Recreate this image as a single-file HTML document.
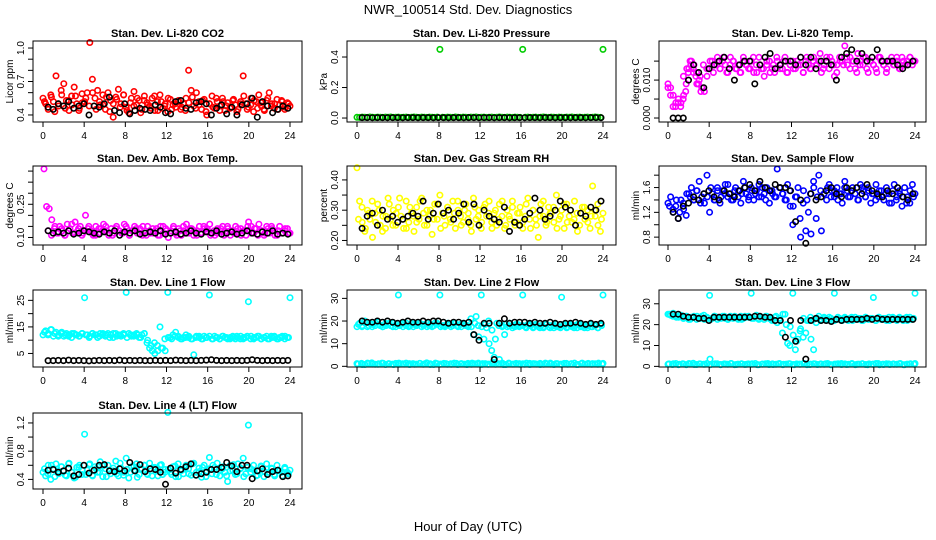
<!DOCTYPE html>
<html><head><meta charset="utf-8"><style>
html,body{margin:0;padding:0;background:#fff}
svg{display:block;font-family:"Liberation Sans",Arial,sans-serif}
</style></head><body>
<svg id="chart" width="936" height="540" viewBox="0 0 936 540" xmlns="http://www.w3.org/2000/svg">
<text x="468" y="14" text-anchor="middle" font-size="13">NWR_100514 Std. Dev. Diagnostics</text>
<text x="468" y="531" text-anchor="middle" font-size="13">Hour of Day (UTC)</text>
</svg>
<script>
const xTicks=[0,4,8,12,16,20,24];
// --- data ---
const co2Red=[0.55,0.50,0.45,0.58,0.52,0.75,0.48,0.62,0.68,0.53,0.44,0.57,0.65,0.50,0.46,0.59,0.52,0.60,1.05,0.72,0.55,0.62,0.49,0.58,0.45,0.60,0.53,0.38,0.56,0.63,0.50,0.58,0.47,0.42,0.55,0.61,0.49,0.53,0.45,0.57,0.51,0.48,0.55,0.44,0.52,0.58,0.46,0.50,0.43,0.54,0.49,0.47,0.52,0.45,0.50,0.55,0.80,0.62,0.48,0.60,0.52,0.45,0.54,0.40,0.50,0.57,0.46,0.52,0.48,0.55,0.44,0.51,0.47,0.53,0.49,0.45,0.52,0.75,0.50,0.47,0.55,0.43,0.52,0.58,0.48,0.45,0.53,0.60,0.50,0.46,0.54,0.49,0.52,0.45,0.51,0.48];
const co2RedB=[0.52,0.47,0.56,0.43,0.50,0.58,0.46,0.53,0.49,0.57,0.44,0.51,0.55,0.48,0.60,0.45,0.52,0.49,0.56,0.43,0.50,0.54,0.47,0.58,0.44,0.51,0.48,0.55,0.42,0.53,0.49,0.46,0.57,0.44,0.52,0.48,0.55,0.45,0.50,0.53,0.47,0.44,0.51,0.56,0.46,0.49,0.53,0.43,0.50,0.47,0.55,0.44,0.52,0.48,0.46,0.54,0.43,0.50,0.57,0.45,0.49,0.53,0.46,0.51,0.44,0.55,0.48,0.50,0.45,0.53,0.47,0.50];
const co2Blk=[0.47,0.45,0.50,0.48,0.52,0.46,0.48,0.50,0.40,0.48,0.47,0.50,0.56,0.44,0.42,0.50,0.41,0.44,0.46,0.45,0.44,0.49,0.47,0.42,0.41,0.52,0.53,0.46,0.45,0.51,0.52,0.50,0.40,0.46,0.49,0.41,0.47,0.40,0.49,0.50,0.55,0.38,0.52,0.48,0.42,0.45,0.48,0.46];
const presGreen=[0.005,0.004,0.006,0.005,0.004,0.007,0.005,0.004,0.006,0.005,0.004,0.006,0.005,0.007,0.004,0.005,0.006,0.004,0.005,0.006,0.004,0.005,0.007,0.005,0.004,0.006,0.005,0.004,0.006,0.005,0.004,0.006,0.45,0.005,0.004,0.006,0.005,0.004,0.007,0.005,0.004,0.006,0.005,0.004,0.006,0.005,0.007,0.004,0.005,0.006,0.004,0.005,0.006,0.004,0.005,0.007,0.005,0.004,0.006,0.005,0.004,0.006,0.005,0.004,0.45,0.005,0.006,0.004,0.005,0.006,0.004,0.005,0.007,0.005,0.004,0.006,0.005,0.004,0.006,0.005,0.004,0.006,0.005,0.007,0.004,0.005,0.006,0.004,0.005,0.006,0.004,0.005,0.007,0.005,0.004,0.45];
const presBlk=[0.003,0.003,0.002,0.003,0.003,0.002,0.003,0.003,0.002,0.003,0.003,0.002,0.003,0.003,0.002,0.003,0.003,0.002,0.003,0.003,0.002,0.003,0.003,0.002,0.003,0.003,0.002,0.003,0.003,0.002,0.003,0.003,0.002,0.003,0.003,0.002,0.003,0.003,0.002,0.003,0.003,0.002,0.003,0.003,0.002,0.003,0.003,0.002];
const tempMag=[0.009,0.008,0.006,0.004,0.005,0.004,0.006,0.009,0.013,0.015,0.014,0.012,0.010,0.008,0.007,0.011,0.013,0.015,0.014,0.016,0.013,0.015,0.014,0.012,0.016,0.015,0.013,0.014,0.012,0.016,0.014,0.013,0.015,0.012,0.014,0.016,0.013,0.011,0.014,0.015,0.013,0.012,0.015,0.014,0.013,0.016,0.012,0.014,0.015,0.013,0.014,0.016,0.012,0.015,0.014,0.013,0.016,0.014,0.015,0.012,0.014,0.016,0.013,0.015,0.011,0.014,0.016,0.015,0.019,0.014,0.016,0.015,0.013,0.017,0.015,0.014,0.016,0.012,0.015,0.014,0.013,0.016,0.015,0.014,0.012,0.015,0.016,0.014,0.015,0.013,0.016,0.014,0.015,0.016,0.014,0.015];
const tempMagB=[0.011,0.013,0.015,0.012,0.009,0.011,0.014,0.013,0.015,0.012,0.014,0.013,0.016,0.012,0.014,0.015,0.013,0.012,0.015,0.014,0.013,0.016,0.012,0.014,0.013,0.015,0.012,0.014,0.016,0.013,0.015,0.012,0.014,0.013,0.015,0.014,0.012,0.016,0.013,0.015,0.014,0.017,0.013,0.015,0.016,0.014,0.012,0.015,0.014,0.016,0.013,0.015,0.012,0.014,0.016,0.013,0.015,0.014,0.012,0.016,0.014,0.013,0.015,0.014,0.016,0.013,0.015,0.014,0.016,0.015];
const tempMagLow=[0.008,0.006,0.003,0.003,0.004,0.003,0.005,0.007,0.012,0.014,0.013,0.011,0.009,0.007];
const tempBlk=[0.000,0.000,0.000,0.010,0.014,0.012,0.008,0.013,0.014,0.015,0.016,0.013,0.010,0.014,0.015,0.015,0.009,0.014,0.016,0.017,0.013,0.014,0.015,0.015,0.014,0.016,0.014,0.016,0.013,0.015,0.015,0.014,0.010,0.016,0.017,0.018,0.015,0.017,0.015,0.016,0.018,0.015,0.015,0.015,0.014,0.013,0.014,0.015];
const ambMag=[0.41,0.24,0.23,0.18,0.14,0.12,0.15,0.13,0.11,0.16,0.14,0.12,0.17,0.13,0.15,0.12,0.20,0.14,0.13,0.11,0.15,0.12,0.14,0.16,0.13,0.11,0.14,0.12,0.15,0.13,0.12,0.16,0.14,0.11,0.13,0.15,0.12,0.14,0.11,0.13,0.15,0.12,0.14,0.13,0.11,0.15,0.12,0.14,0.10,0.13,0.15,0.12,0.14,0.11,0.13,0.16,0.12,0.14,0.13,0.11,0.15,0.12,0.14,0.13,0.16,0.12,0.11,0.14,0.13,0.15,0.12,0.14,0.11,0.13,0.15,0.12,0.14,0.13,0.11,0.17,0.15,0.12,0.14,0.16,0.13,0.11,0.15,0.12,0.14,0.13,0.11,0.15,0.12,0.13,0.14,0.12];
const ambMagB=[0.13,0.11,0.15,0.12,0.14,0.11,0.13,0.16,0.12,0.14,0.11,0.13,0.15,0.12,0.11,0.14,0.13,0.15,0.12,0.11,0.14,0.13,0.12,0.15,0.11,0.13,0.14,0.12,0.15,0.11,0.13,0.12,0.14,0.11,0.15,0.13,0.12,0.14,0.11,0.13,0.15,0.12,0.14,0.11,0.13,0.12,0.15,0.14,0.11,0.13,0.12,0.14,0.11,0.15,0.13,0.12,0.14,0.11,0.13,0.15,0.12,0.14,0.11,0.13,0.12,0.14,0.15,0.11,0.13,0.12,0.14,0.12];
const ambBlk=[0.13,0.12,0.125,0.12,0.13,0.115,0.12,0.13,0.125,0.12,0.115,0.125,0.12,0.13,0.11,0.125,0.12,0.13,0.115,0.12,0.125,0.12,0.13,0.115,0.12,0.125,0.115,0.12,0.13,0.12,0.115,0.125,0.12,0.13,0.115,0.12,0.125,0.115,0.12,0.13,0.12,0.115,0.125,0.12,0.13,0.115,0.12,0.115];
const rhYel=[0.44,0.33,0.26,0.23,0.30,0.27,0.21,0.29,0.32,0.25,0.28,0.24,0.34,0.27,0.30,0.25,0.31,0.28,0.24,0.33,0.26,0.29,0.23,0.31,0.27,0.34,0.25,0.30,0.28,0.22,0.32,0.27,0.35,0.29,0.25,0.31,0.27,0.33,0.24,0.30,0.28,0.26,0.32,0.29,0.25,0.34,0.27,0.30,0.24,0.31,0.28,0.33,0.26,0.29,0.25,0.32,0.28,0.24,0.30,0.27,0.33,0.25,0.29,0.31,0.26,0.28,0.34,0.24,0.30,0.27,0.21,0.32,0.28,0.25,0.31,0.29,0.26,0.35,0.27,0.30,0.24,0.32,0.28,0.26,0.33,0.29,0.25,0.31,0.27,0.30,0.24,0.38,0.28,0.32,0.23,0.29];
const rhYelB=[0.27,0.31,0.24,0.29,0.33,0.26,0.30,0.23,0.28,0.32,0.25,0.29,0.34,0.27,0.24,0.31,0.28,0.26,0.33,0.29,0.25,0.30,0.27,0.32,0.24,0.28,0.31,0.26,0.29,0.33,0.25,0.30,0.27,0.23,0.31,0.28,0.26,0.32,0.29,0.24,0.30,0.27,0.33,0.25,0.28,0.31,0.26,0.29,0.24,0.32,0.27,0.30,0.25,0.28,0.33,0.26,0.29,0.31,0.24,0.28,0.32,0.26,0.30,0.27,0.23,0.29,0.31,0.26,0.28,0.30,0.25,0.27];
const rhBlk=[0.24,0.28,0.29,0.25,0.30,0.27,0.28,0.26,0.27,0.28,0.29,0.28,0.33,0.27,0.29,0.32,0.29,0.30,0.27,0.29,0.32,0.26,0.32,0.25,0.30,0.28,0.27,0.26,0.31,0.23,0.26,0.25,0.27,0.29,0.34,0.30,0.27,0.28,0.30,0.33,0.31,0.30,0.25,0.29,0.28,0.31,0.30,0.33];
const sampBlue=[1.35,1.45,1.20,1.30,1.10,1.40,1.25,1.15,1.50,1.60,1.40,1.55,1.70,1.45,1.35,1.80,1.20,1.50,1.40,1.60,1.35,1.55,1.65,1.45,1.50,1.40,1.60,1.55,1.35,1.70,1.50,1.45,1.60,1.40,1.55,1.65,1.45,1.50,1.60,1.35,1.55,1.45,1.90,1.60,1.50,1.40,1.65,1.30,1.00,1.45,1.60,0.80,1.35,0.90,1.20,0.85,1.70,1.10,1.80,0.90,1.50,1.40,1.65,1.55,1.45,1.60,1.50,1.35,1.70,1.55,1.45,1.60,1.50,1.40,1.65,1.55,1.45,1.60,1.35,1.50,1.65,1.45,1.55,1.40,1.60,1.50,1.35,1.65,1.45,1.55,1.30,1.60,1.45,1.35,1.65,1.50];
const sampBlueB=[1.30,1.25,1.40,1.20,1.35,1.50,1.45,1.40,1.55,1.35,1.50,1.45,1.60,1.40,1.55,1.45,1.50,1.65,1.40,1.55,1.45,1.50,1.60,1.40,1.55,1.50,1.45,1.60,1.40,1.55,1.50,1.45,1.60,1.50,1.40,1.55,1.30,1.45,1.10,1.55,1.40,1.50,1.60,1.45,1.55,1.50,1.60,1.45,1.55,1.40,1.50,1.60,1.45,1.55,1.50,1.40,1.60,1.45,1.55,1.50,1.40,1.55,1.45,1.50,1.35,1.55,1.40,1.50,1.45,1.35,1.55,1.45];
const sampBlk=[1.20,1.10,1.30,1.35,1.45,1.40,1.50,1.55,1.45,1.40,1.55,1.50,1.45,1.55,1.60,1.65,1.55,1.70,1.60,1.55,1.65,1.60,1.60,1.55,1.05,1.40,0.70,1.50,1.40,1.45,1.55,1.60,1.50,1.45,1.60,1.55,1.60,1.50,1.65,1.55,1.50,1.45,1.55,1.50,1.60,1.45,1.40,1.50];
const line1Cyan=[12,13.5,12.5,14,11.5,13,12,12.5,11.5,12.5,12,11,12.5,12,11.5,12.5,26,12,11.5,12.5,12,11,12.5,12,11.5,12.5,12,11,12.5,12,11.5,12,28,12.5,11.5,12,12.5,11,12,12.5,9,7,6,5,8,15,7,6,28,11,12,13,11.5,10.5,11,12,11,10.5,4.5,11.5,11,10.5,11.5,11,27,10.5,11.5,11,10.5,11.5,11,10.5,11,11.5,10.5,11,11.5,10.5,11,24.5,11.5,10.5,11,11.5,10.5,11,11.5,10.5,11,11.5,10.5,11,11.5,10.5,11,26];
const line1CyanB=[13,12,14,12.5,11.5,13,12,11.5,12.5,12,11.5,12.5,12,11,12.5,12,11.5,12.5,12,11,12.5,11.5,12,12.5,11,12,11.5,12,11,12.5,10,8,9,6,7,10.5,11,10.5,11.5,11,10.5,11,11.5,10.5,11,11.5,10.5,11,11.5,10.5,11,10.5,11.5,11,10.5,11,11.5,10.5,11,11.5,10.5,11,11.5,10.5,11,10.5,11.5,11,10.5,11,11.5,11];
const line1Blk=[2.3,2.3,2.4,2.3,2.5,2.3,2.4,2.3,2.2,2.3,2.4,2.3,2.4,2.3,2.5,2.3,2.4,2.3,2.4,2.3,2.3,2.4,2.3,2.4,2.3,2.5,2.4,2.3,2.4,2.3,2.4,2.5,2.6,2.4,2.3,2.4,2.3,2.4,2.3,2.4,2.6,2.4,2.3,2.4,2.3,2.4,2.3,2.4];
const line2Cyan=[17.5,19,18,20,17.5,19,18.5,18,19.5,18,17.5,19,18.5,18,19,17.5,31.5,18.5,19,18,17.5,19,18.5,18,19,17.5,18.5,19,18,17.5,19,18.5,31.5,18,17.5,19,18.5,18,19,17.5,18.5,19,18,17.5,21,14,22,13,31.5,12,17,10,7,4,19,3,18,14,17.5,19,18,17.5,18.5,18,31.5,17.5,18.5,18,17,18.5,17.5,18,17,18.5,17.5,18,17,18.5,17.5,30.5,18,17,18.5,17.5,18,17,18.5,17.5,18,17,18.5,17.5,18,17,18.5,31.5];
const line2CyanB=[18.5,17.5,19,18,17.5,19,18.5,17.5,18,19,17.5,18.5,18,17.5,19,18,17.5,18.5,19,18,17.5,18.5,18,19,17.5,18,18.5,17.5,19,18,17.5,18.5,18,17.5,19,18,17.5,18.5,20,16,12,18,17.5,18.5,18,17,18.5,17.5,18,17,18.5,17.5,18,17,17.5,18.5,17,18,17.5,17,18.5,17.5,18,17,18.5,17.5,17,18,17.5,18,17,18];
const line2Low=[1.2,0.8,1.4,1.0,0.9,1.3,1.1,0.8,1.4,1.0,1.2,0.9,1.3,1.1,0.8,1.4,1.0,1.2,0.9,1.3,1.1,0.8,1.4,1.0,1.2,0.9,1.3,1.1,0.8,1.4,1.0,1.2,0.9,1.3,1.1,0.8,1.4,1.0,1.2,0.9,1.3,1.1,0.8,1.4,1.0,1.2,0.9,1.3];
const line2LowB=[1.0,1.3,0.8,1.2,1.5,0.9,1.1,1.4,0.8,1.2,1.0,1.3,0.9,1.1,1.4,0.8,1.2,1.0,1.3,0.9,1.5,1.1,0.8,1.2,1.0,1.3,0.9,1.1,1.4,0.8,1.2,1.0,1.3,0.9,1.1,1.4,0.8,1.2,1.0,1.3,0.9,1.1,1.4,0.8,1.2,1.0,1.3,0.9,1.1,1.4,0.8,1.2,1.0,1.3,0.9,1.1,1.4,0.8,1.2,1.0,1.3,0.9,1.1,1.4,0.8,1.2,1.0,1.3,0.9,1.1,1.4,1.0];
const line2Blk=[20,19.5,19.5,20,19.5,20,19.5,19,19.5,20,19.5,19.5,20,19.5,20,20,19.5,19,19.5,19.5,19,19.5,14,11.5,19,19,3,19,21,19,19.5,19.5,19.5,19,19.5,19,19,19.5,19,18.5,19,19,19.5,19,18.5,19,18.5,19];
const line3Cyan=[25,24.5,25.5,24,23.5,24.5,23,24,22.5,23.5,24,22.5,23,24,22.5,23.5,34,23,24,22.5,23.5,24,23,22.5,24,23,23.5,22.5,24,23,23.5,24,35,23,24.5,23,23.5,22.5,24,23,22,23.5,21,22,16,25,11,19,35,8,13,18,14,16,22,13,8,21,24,22.5,23,22.5,23.5,22,35,22.5,23,22,23.5,22.5,23,22,23.5,22.5,23,22,23.5,22.5,23,33,22,23.5,22.5,23,22,23.5,22.5,23,22,23.5,22.5,23,22,23.5,22.5,35];
const line3CyanB=[25,24,23.5,24.5,23,24,22.5,23.5,24,23,24.5,23,22.5,24,23.5,23,24,22.5,23.5,24,23,22.5,24,23.5,23,24,22.5,23.5,24,23,22.5,24,23,25,20,10,15,12,17,23,22,23.5,22.5,23,22,23.5,22.5,23,22,23.5,22.5,23,22,23.5,22.5,23,22,23.5,22.5,23,22,23.5,22.5,23,22,23.5,22.5,23,22,23.5,22.5,23];
const line3Low=[1,1.3,0.8,1.1,1.4,0.9,1.2,1,3.5,1.3,0.8,1.1,1.4,0.9,1.2,1,1.3,0.8,1.1,1.4,0.9,1.2,1,1.3,0.8,1.1,1.4,0.9,1.2,1,1.3,0.8,1.1,1.4,0.9,1.2,1,1.3,0.8,1.1,1.4,0.9,1.2,1,1.3,0.8,1.1,1.4];
const line3LowB=[1.2,0.9,1.4,1.0,1.3,0.8,1.1,1.5,0.9,1.2,1.0,1.4,0.8,1.1,1.3,0.9,1.2,1.0,1.4,0.8,1.1,1.3,0.9,1.2,1.0,1.4,0.8,1.1,1.3,0.9,1.2,1.0,1.4,0.8,1.1,1.3,0.9,1.2,1.0,1.4,0.8,1.1,1.3,0.9,1.2,1.0,1.4,0.8,1.1,1.3,0.9,1.2,1.0,1.4,0.8,1.1,1.3,0.9,1.2,1.0,1.4,0.8,1.1,1.3,0.9,1.2,1.0,1.4,0.8,1.1,1.3,1.0];
const line3Blk=[25,25,24,23.5,23.5,23,23,22,23.5,23.5,23.5,23.5,23.5,23.5,23.5,23.5,24,24,23.5,23.5,22,22,14,22,12,22,3.5,22,23,22,22,21.5,22.5,22,22.5,22.5,22.5,22.5,23,22.5,23,22.5,22.5,22.5,22.5,22.5,22.5,22.5];
const line4Cyan=[0.50,0.45,0.60,0.40,0.55,0.62,0.48,0.58,0.52,0.45,0.63,0.50,0.42,0.57,0.60,0.47,1.04,0.53,0.62,0.46,0.58,0.50,0.65,0.44,0.55,0.60,0.48,0.52,0.66,0.45,0.56,0.50,0.70,0.42,0.58,0.53,0.62,0.47,0.55,0.60,0.48,0.63,0.45,0.56,0.52,0.60,0.47,0.54,1.35,0.50,0.58,0.44,0.62,0.52,0.48,0.60,0.55,0.46,0.63,0.50,0.56,0.43,0.60,0.52,0.71,0.48,0.57,0.63,0.45,0.55,0.50,0.37,0.60,0.53,0.47,0.62,0.56,0.70,0.48,1.17,0.55,0.60,0.45,0.52,0.58,0.44,0.62,0.50,0.55,0.47,0.60,0.52,0.45,0.57,0.50,0.53];
const line4CyanB=[0.55,0.48,0.60,0.44,0.52,0.58,0.46,0.62,0.50,0.43,0.57,0.53,0.47,0.61,0.45,0.55,0.50,0.59,0.44,0.52,0.56,0.48,0.63,0.46,0.54,0.50,0.58,0.43,0.55,0.60,0.47,0.52,0.57,0.45,0.61,0.50,0.54,0.47,0.59,0.44,0.53,0.56,0.48,0.62,0.46,0.51,0.57,0.44,0.55,0.60,0.47,0.53,0.58,0.45,0.52,0.61,0.48,0.55,0.44,0.57,0.50,0.53,0.46,0.59,0.51,0.48,0.56,0.45,0.53,0.50,0.55,0.48];
const line4Blk=[0.53,0.54,0.50,0.52,0.56,0.45,0.47,0.60,0.49,0.53,0.60,0.61,0.52,0.51,0.55,0.52,0.64,0.52,0.61,0.51,0.55,0.54,0.50,0.33,0.56,0.49,0.54,0.58,0.62,0.46,0.48,0.50,0.54,0.54,0.57,0.64,0.59,0.51,0.60,0.60,0.41,0.52,0.55,0.47,0.51,0.53,0.44,0.45];
// --- tick label arrays ---
const co2Ticks=[0.4,0.5,0.6,0.7,0.8,0.9,1.0], co2Labels=["0.4","","","0.7","","","1.0"];
const presTicks=[0.0,0.2,0.4], presLabels=["0.0","0.2","0.4"];
const tempTicks=[0,0.005,0.010,0.015], tempLabels=["0.000","","0.010",""];
const ambTicks=[0.10,0.15,0.20,0.25,0.30,0.35,0.40], ambLabels=["0.10","","","0.25","","",""];
const rhTicks=[0.20,0.25,0.30,0.35,0.40], rhLabels=["0.20","","0.30","","0.40"];
const sampTicks=[0.8,1.0,1.2,1.4,1.6,1.8], sampLabels=["0.8","","1.2","","1.6",""];
const l1Ticks=[5,10,15,20,25], l1Labels=["5","","15","","25"];
const l2Ticks=[0,10,20,30], l2Labels=["0","10","20","30"];
const l3Ticks=[0,10,20,30], l3Labels=["0","10","20","30"];
const l4Ticks=[0.4,0.6,0.8,1.0,1.2], l4Labels=["0.4","","0.8","","1.2"];

const NS="http://www.w3.org/2000/svg";
const svg=document.getElementById('chart');
const cols=[{l:33,r:302,t0:43,t24:290},{l:347,r:616,t0:357,t24:603},{l:659,r:926,t0:668,t24:915}];
const rows=[{t:41,b:122},{t:166,b:245},{t:290,b:367},{t:413,b:489}];
function mk(tag,attrs,parent){const e=document.createElementNS(NS,tag);for(const k in attrs)e.setAttribute(k,attrs[k]);(parent||svg).appendChild(e);return e;}

function panel(name,title,ylab,c,r,ymin,ymax,ticks,labels,series){
  const C=cols[c],R=rows[r];
  const g=mk('g',{});
  
  
  const xs=h=>C.t0+h*(C.t24-C.t0)/24;
  const ys=v=>R.b-(v-ymin)/(ymax-ymin)*(R.b-R.t);
  series.forEach(s=>{
    const sg=mk('g',{fill:'none',stroke:s.color,'stroke-width':1.6},g);
    
    
    const n=s.vals.length;
    s.vals.forEach((v,i)=>{
      const h=s.h0+i*(s.h1-s.h0)/(n-1);
      const p=mk('circle',{cx:xs(h).toFixed(1),cy:ys(v).toFixed(1),r:2.7},sg);
      
      
    });
  });
  const box=mk('rect',{x:C.l,y:R.t,width:C.r-C.l,height:R.b-R.t,fill:'none',stroke:'#000','stroke-width':1},g);
  
  
  const xa=mk('g',{},g);
  
  
  xTicks.forEach(t=>{
    const x=xs(t);
    mk('line',{x1:x,x2:x,y1:R.b,y2:R.b+5,stroke:'#000'},xa);
    const tx=mk('text',{x:x,y:R.b+17,'text-anchor':'middle','font-size':10},xa);
    tx.textContent=t;
    
    
  });
  const ya=mk('g',{},g);
  
  
  ticks.forEach((t,i)=>{
    const y=ys(t);
    if(y<R.t-0.5||y>R.b+0.5)return;
    mk('line',{x1:C.l-5,x2:C.l,y1:y,y2:y,stroke:'#000'},ya);
    if(labels[i]){
      const tx=mk('text',{x:0,y:0,'text-anchor':'middle','font-size':10,transform:`translate(${C.l-9},${y}) rotate(-90)`},ya);
      tx.textContent=labels[i];
      
      
    }
  });
  const yl=mk('text',{x:0,y:0,'text-anchor':'middle','font-size':10,transform:`translate(${C.l-20},${(R.t+R.b)/2}) rotate(-90)`},g);
  yl.textContent=ylab;
  
  
  const ti=mk('text',{x:(C.l+C.r)/2,y:R.t-4,'text-anchor':'middle','font-size':11,'font-weight':'bold'},g);
  ti.textContent=title;
  
  
}
const S=(id,vals,color,h0,h1)=>({id,vals,color,h0,h1});
panel('co2','Stan. Dev. Li-820 CO2','Licor ppm',0,0,0.337,1.063,co2Ticks,co2Labels,[S('red',co2Red,'#ff0000',0,24),S('red-b',co2RedB,'#ff0000',0.15,23.85),S('black',co2Blk,'#000',0.5,23.8)]);
panel('pressure','Stan. Dev. Li-820 Pressure','kPa',1,0,-0.026,0.505,presTicks,presLabels,[S('green',presGreen,'#00cd00',0,24),S('black',presBlk,'#000',0.5,23.8)]);
panel('temp','Stan. Dev. Li-820 Temp.','degrees C',2,0,-0.00105,0.0203,tempTicks,tempLabels,[S('magenta',tempMag,'#ff00ff',0,24),S('magenta-b',tempMagB,'#ff00ff',1.5,23.85),S('magenta-low',tempMagLow,'#ff00ff',0,3.2),S('black',tempBlk,'#000',0.5,23.8)]);
panel('ambbox','Stan. Dev. Amb. Box Temp.','degrees C',0,1,0.066,0.423,ambTicks,ambLabels,[S('magenta',ambMag,'#ff00ff',0.1,24),S('magenta-b',ambMagB,'#ff00ff',0.5,23.85),S('black',ambBlk,'#000',0.5,23.8)]);
panel('rh','Stan. Dev. Gas Stream RH','percent',1,1,0.185,0.446,rhTicks,rhLabels,[S('yellow',rhYel,'#ffff00',0,24),S('yellow-b',rhYelB,'#ffff00',0.15,23.85),S('black',rhBlk,'#000',0.5,23.8)]);
panel('sampleflow','Stan. Dev. Sample Flow','ml/min',2,1,0.673,1.948,sampTicks,sampLabels,[S('blue',sampBlue,'#0000ff',0,24),S('blue-b',sampBlueB,'#0000ff',0.15,23.85),S('black',sampBlk,'#000',0.5,23.8)]);
panel('line1','Stan. Dev. Line 1 Flow','ml/min',0,2,-0.1,28.9,l1Ticks,l1Labels,[S('cyan',line1Cyan,'#00ffff',0,24),S('cyan-b',line1CyanB,'#00ffff',0.15,23.85),S('black',line1Blk,'#000',0.5,23.8)]);
panel('line2','Stan. Dev. Line 2 Flow','ml/min',1,2,-0.3,33.7,l2Ticks,l2Labels,[S('cyan',line2Cyan,'#00ffff',0,24),S('cyan-b',line2CyanB,'#00ffff',0.15,23.85),S('cyan-low',line2Low,'#00ffff',0,24),S('cyan-low-b',line2LowB,'#00ffff',0.1,23.9),S('black',line2Blk,'#000',0.5,23.8)]);
panel('line3','Stan. Dev. Line 3 Flow','ml/min',2,2,-0.3,36.6,l3Ticks,l3Labels,[S('cyan',line3Cyan,'#00ffff',0,24),S('cyan-b',line3CyanB,'#00ffff',0.15,23.85),S('cyan-low',line3Low,'#00ffff',0,24),S('cyan-low-b',line3LowB,'#00ffff',0.1,23.9),S('black',line3Blk,'#000',0.5,23.8)]);
panel('line4','Stan. Dev. Line 4 (LT) Flow','ml/min',0,3,0.264,1.341,l4Ticks,l4Labels,[S('cyan',line4Cyan,'#00ffff',0,24),S('cyan-b',line4CyanB,'#00ffff',0.15,23.85),S('black',line4Blk,'#000',0.5,23.8)]);
</script>
</body></html>
